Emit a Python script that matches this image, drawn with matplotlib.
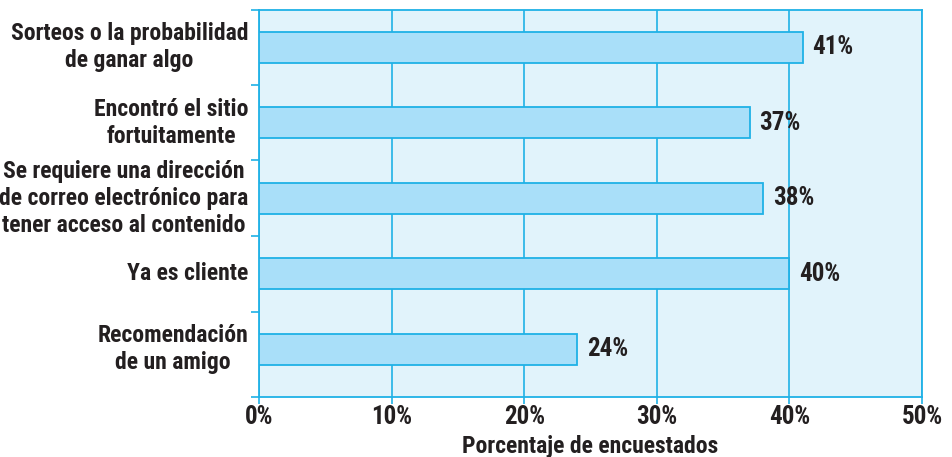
import matplotlib.pyplot as plt
from matplotlib import font_manager

categories = [
    "Sorteos o la probabilidad\nde ganar algo",
    "Encontró el sitio\nfortuitamente",
    "Se requiere una dirección\nde correo electrónico para\ntener acceso al contenido",
    "Ya es cliente",
    "Recomendación\nde un amigo",
]
values = [41, 37, 38, 40, 24]
xticks = [0, 10, 20, 30, 40, 50]
xlabel = "Porcentaje de encuestados"

# pick a narrow bold font if one is installed
names = {f.name for f in font_manager.fontManager.ttflist}
fam = "DejaVu Sans"
for cand in ["Roboto Condensed", "Barlow Condensed", "Archivo Narrow", "Asap Condensed"]:
    if cand in names:
        fam = cand
        break
plt.rcParams["font.family"] = [fam, "DejaVu Sans"]
plt.rcParams["font.weight"] = "bold"

cyan = "#1fb1e6"
bg = "#e1f3fb"
barc = "#a9dff9"
txt = "#231f20"

fig = plt.figure(figsize=(9.52, 4.57), dpi=100)
ax = fig.add_axes([0.2721, 0.1313, 0.6964, 0.8468])
ax.set_facecolor(bg)

y = list(range(len(categories)))
ax.barh(y, values, height=0.41, color=barc, edgecolor=cyan, linewidth=1.3, zorder=3)
for yi, v in zip(y, values):
    ax.text(v + 0.75, yi, f"{v}%", va="center", ha="left", fontsize=18,
            color=txt, fontweight="bold")

ax.set_xlim(0, 50)
ax.set_ylim(4.63, -0.49)
ax.set_xticks(xticks)
ax.set_xticklabels([f"{t}%" for t in xticks], fontsize=18, color=txt, fontweight="bold")
ax.grid(axis="x", color=cyan, linewidth=1.2, zorder=1)

ax.set_yticks([-0.49, 0.5, 1.5, 2.5, 3.5, 4.63])
ax.set_yticklabels([])
ax.tick_params(axis="y", length=6, color=cyan, width=1.2)
ax.tick_params(axis="x", length=5, color=cyan, width=1.2, pad=1)

for yi, lab in zip(y, categories):
    ax.text(-0.016, yi, lab, transform=ax.get_yaxis_transform(), ha="right",
            va="center", multialignment="center", fontsize=17, color=txt,
            fontweight="bold", linespacing=1.22)

for s in ax.spines.values():
    s.set_color(cyan)
    s.set_linewidth(1.3)

ax.set_xlabel(xlabel, fontsize=17, color=txt, fontweight="bold", labelpad=4)

fig.savefig("out.png", dpi=100)
